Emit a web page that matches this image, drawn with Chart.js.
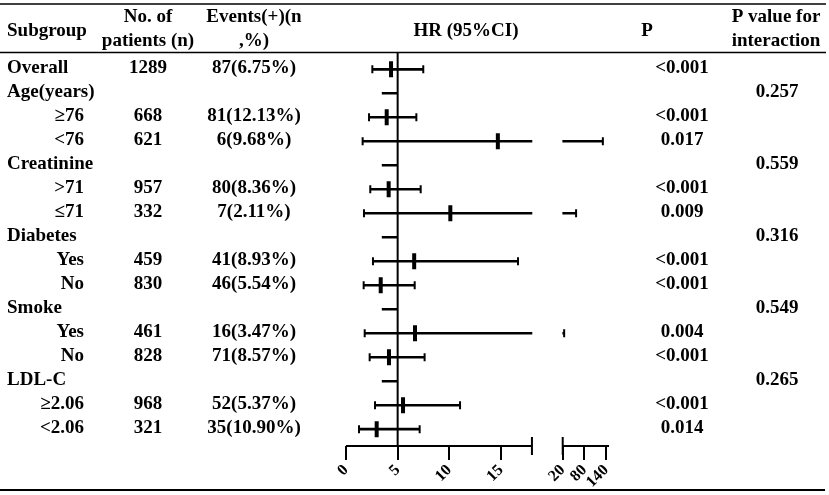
<!DOCTYPE html>
<html>
<head>
<meta charset="utf-8">
<script src="https://cdn.jsdelivr.net/npm/chart.js@4.4.0/dist/chart.umd.min.js"></script>
<style>
  html, body { margin: 0; padding: 0; background: #fff; }
</style>
</head>
<body>
<canvas id="mycanvas" width="829" height="495"></canvas>
<script>
// table rows, top to bottom
var subgroups = ['Overall', 'Age(years)', '\u226576', '<76', 'Creatinine', '>71', '\u226471',
  'Diabetes', 'Yes', 'No', 'Smoke', 'Yes', 'No', 'LDL-C', '\u22652.06', '<2.06'];
var isHeader = [false, true, false, false, true, false, false, true, false, false, true, false, false, true, false, false];
var isSubLevel = [false, false, true, true, false, true, true, false, true, true, false, true, true, false, true, true];
var patients = ['1289', '', '668', '621', '', '957', '332', '', '459', '830', '', '461', '828', '', '968', '321'];
var events = ['87(6.75%)', '', '81(12.13%)', '6(9.68%)', '', '80(8.36%)', '7(2.11%)', '', '41(8.93%)',
  '46(5.54%)', '', '16(3.47%)', '71(8.57%)', '', '52(5.37%)', '35(10.90%)'];
var hr = [4.36, null, 3.94, 14.7, null, 4.13, 10.1, null, 6.6, 3.36, null, 6.68, 4.16, null, 5.52, 2.97];
var lower = [2.55, null, 2.23, 1.61, null, 2.35, 1.74, null, 2.61, 1.71, null, 1.81, 2.29, null, 2.81, 1.26];
var upper = [7.48, null, 6.81, 131, null, 7.23, 57, null, 16.65, 6.65, null, 24, 7.61, null, 11.04, 7.13];
var pValues = ['<0.001', '', '<0.001', '0.017', '', '<0.001', '0.009', '', '<0.001', '<0.001', '',
  '0.004', '<0.001', '', '<0.001', '0.014'];
var pInteraction = ['', '0.257', '', '', '0.559', '', '', '0.316', '', '', '0.549', '', '', '0.265', '', ''];
var xTicks = [0, 5, 10, 15, 20, 80, 140];
var refValue = 5;
var headerStub = [3.5, 5];

// broken x axis: 0-18 on the left part, 20-148 squeezed on the right
var BREAK_LOW = 18, BREAK_HIGH = 20, X_MAX = 148;
var LEFT_SHARE = 0.707, RIGHT_SHARE_START = 0.824;

function brokenFraction(v) {
  if (v <= BREAK_LOW) return v / BREAK_LOW * LEFT_SHARE;
  if (v >= BREAK_HIGH) return RIGHT_SHARE_START + (v - BREAK_HIGH) / (X_MAX - BREAK_HIGH) * (1 - RIGHT_SHARE_START);
  return LEFT_SHARE + (v - BREAK_LOW) / (BREAK_HIGH - BREAK_LOW) * (RIGHT_SHARE_START - LEFT_SHARE);
}
function brokenValue(f) {
  if (f <= LEFT_SHARE) return f / LEFT_SHARE * BREAK_LOW;
  if (f >= RIGHT_SHARE_START) return BREAK_HIGH + (f - RIGHT_SHARE_START) / (1 - RIGHT_SHARE_START) * (X_MAX - BREAK_HIGH);
  return BREAK_LOW + (f - LEFT_SHARE) / (RIGHT_SHARE_START - LEFT_SHARE) * (BREAK_HIGH - BREAK_LOW);
}

class BrokenScale extends Chart.LinearScale {
  buildTicks() {
    return xTicks.map(function (v) { return { value: v }; });
  }
  getPixelForValue(value) {
    return this.left + this.width * brokenFraction(value);
  }
  getValueForPixel(pixel) {
    return brokenValue((pixel - this.left) / this.width);
  }
}
BrokenScale.id = 'broken';
BrokenScale.defaults = Chart.LinearScale.defaults;
Chart.register(BrokenScale);

// build datasets from the arrays
var ciBars = [], stubBars = [], caps = [], points = [];
for (var i = 0; i < subgroups.length; i++) {
  if (isHeader[i]) stubBars.push({ x: headerStub, y: i });
  if (hr[i] === null) continue;
  ciBars.push({ x: [lower[i], Math.min(upper[i], BREAK_LOW)], y: i });
  if (upper[i] > BREAK_HIGH) ciBars.push({ x: [BREAK_HIGH, upper[i]], y: i });
  caps.push({ x: lower[i], y: i });
  caps.push({ x: upper[i], y: i });
  points.push({ x: hr[i], y: i });
}

var serif = '"Liberation Serif", "Times New Roman", serif';

var tablePlugin = {
  id: 'table',
  afterDraw: function (chart) {
    var ctx = chart.ctx;
    var xs = chart.scales.x, ys = chart.scales.y;
    var W = chart.width;
    ctx.save();
    ctx.fillStyle = '#000';
    ctx.strokeStyle = '#000';
    ctx.font = 'bold 19px ' + serif;
    ctx.textBaseline = 'alphabetic';

    // column titles
    ctx.textAlign = 'left';
    ctx.fillText('Subgroup', 7, 36);
    ctx.textAlign = 'center';
    ctx.fillText('No. of', 148, 22);
    ctx.fillText('patients (n)', 148, 46);
    ctx.fillText('Events(+)(n', 254, 22);
    ctx.fillText(',%)', 254, 46);
    ctx.fillText('HR (95%CI)', 466, 36);
    ctx.fillText('P', 647, 36);
    ctx.fillText('P value for', 776, 22);
    ctx.fillText('interaction', 776, 46);

    // rows
    for (var i = 0; i < subgroups.length; i++) {
      var y = ys.getPixelForValue(i) + 4;
      if (isSubLevel[i]) {
        ctx.textAlign = 'right';
        ctx.fillText(subgroups[i], 84, y);
      } else {
        ctx.textAlign = 'left';
        ctx.fillText(subgroups[i], 7, y);
      }
      ctx.textAlign = 'center';
      ctx.fillText(patients[i], 148, y);
      ctx.fillText(events[i], 254, y);
      ctx.fillText(pValues[i], 682, y);
      ctx.fillText(pInteraction[i], 777, y);
    }

    // table rules
    ctx.lineWidth = 1.5;
    ctx.beginPath(); ctx.moveTo(0, 4); ctx.lineTo(W - 3, 4); ctx.stroke();
    ctx.beginPath(); ctx.moveTo(0, 52.5); ctx.lineTo(W - 3, 52.5); ctx.stroke();
    ctx.lineWidth = 2;
    ctx.beginPath(); ctx.moveTo(0, 490); ctx.lineTo(W - 4, 490); ctx.stroke();

    // broken axis line
    var ay = chart.chartArea.bottom;
    var p0 = xs.getPixelForValue(0), p1 = xs.getPixelForValue(BREAK_LOW);
    var p2 = xs.getPixelForValue(BREAK_HIGH), p3 = xs.getPixelForValue(X_MAX);
    ctx.lineWidth = 2;
    ctx.beginPath();
    ctx.moveTo(p0, ay); ctx.lineTo(p1, ay);
    ctx.moveTo(p1, ay - 9); ctx.lineTo(p1, ay + 9);
    ctx.moveTo(p2, ay - 9); ctx.lineTo(p2, ay + 9);
    ctx.moveTo(p2, ay); ctx.lineTo(p3, ay);
    ctx.stroke();
    ctx.restore();
  }
};

var ctx = document.getElementById('mycanvas');
var forest = new Chart(ctx, {
  type: 'bar',
  data: {
    datasets: [
      {
        type: 'line',
        data: [{ x: refValue, y: -0.7 }, { x: refValue, y: subgroups.length - 0.3 }],
        borderColor: '#000',
        borderWidth: 2,
        pointRadius: 0
      },
      {
        type: 'bar',
        indexAxis: 'y',
        data: ciBars,
        backgroundColor: '#000',
        borderWidth: 0,
        barThickness: 2,
        grouped: false
      },
      {
        type: 'bar',
        indexAxis: 'y',
        data: stubBars,
        backgroundColor: '#000',
        borderWidth: 0,
        barThickness: 2,
        grouped: false
      },
      {
        type: 'scatter',
        data: caps,
        pointStyle: 'line',
        rotation: 90,
        radius: 4,
        borderWidth: 2,
        borderColor: '#000'
      },
      {
        type: 'scatter',
        data: points,
        pointStyle: 'line',
        rotation: 90,
        radius: 8,
        borderWidth: 4,
        borderColor: '#000'
      }
    ]
  },
  options: {
    responsive: false,
    animation: false,
    layout: { padding: { left: 346, right: 220, top: 52.5, bottom: 0 } },
    plugins: { legend: { display: false }, tooltip: { enabled: false } },
    scales: {
      x: {
        type: 'broken',
        min: 0,
        max: X_MAX,
        offset: false,
        border: { display: false },
        grid: { offset: false, drawOnChartArea: false, drawTicks: true, tickLength: 14, color: '#000', lineWidth: 2 },
        ticks: {
          autoSkip: false,
          minRotation: 45,
          maxRotation: 45,
          padding: 1,
          color: '#000',
          font: { family: serif, size: 16, weight: 'bold' },
          callback: function (v) { return String(v); }
        },
        afterFit: function (scale) { scale.height = 49; }
      },
      y: {
        type: 'linear',
        reverse: true,
        offset: false,
        min: -0.7,
        max: subgroups.length - 0.3,
        display: false
      }
    }
  },
  plugins: [tablePlugin]
});
</script>
</body>
</html>
